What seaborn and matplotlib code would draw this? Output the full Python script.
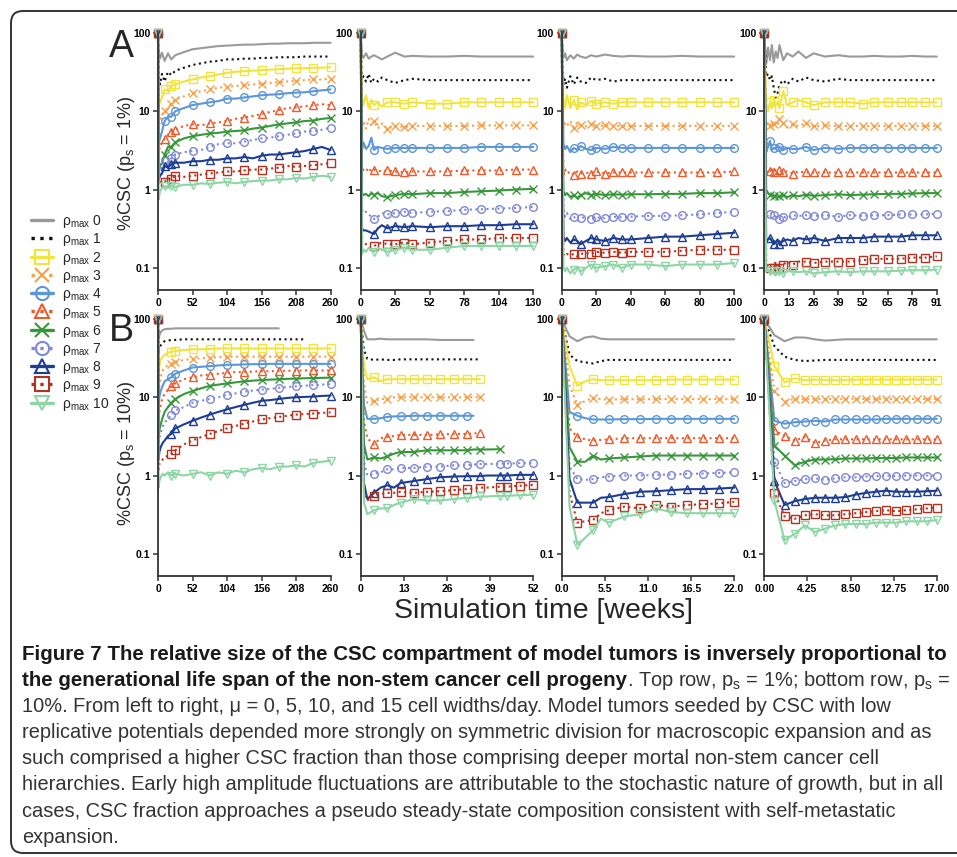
import matplotlib
matplotlib.use('Agg')
import matplotlib.pyplot as plt
import numpy as np
import pandas as pd
import seaborn as sns
from matplotlib.lines import Line2D
from matplotlib.patches import FancyBboxPatch
from matplotlib.ticker import NullLocator
from matplotlib.transforms import IdentityTransform
from matplotlib import font_manager

nan = np.nan

# legend / series look
rho_labels = ['0', '1', '2', '3', '4', '5', '6', '7', '8', '9', '10']
colors = ['#9a9a9a', '#111111', '#f2e43e', '#f8a04a', '#5b96d9', '#ef5a2a',
          '#38973a', '#8087d6', '#1d3d94', '#b2321f', '#8ed5a6']
linestyles = ['-', ':', '-', ':', '-', ':', '-', ':', '-', ':', '-']
markers = ['', '', 's', 'x', 'o', '^', 'x', 'o', '^', 's', 'v']

# ---- Top row (p_s = 1%) ----
weeks_a1 = [0, 1, 3, 6, 10, 15, 20, 26, 39, 52, 65, 78, 91, 104, 117, 130, 143,
            156, 169, 182, 195, 208, 221, 234, 247, 260]
csc_a1 = [
    [100, 60, 47, 56, 44, 55, 46, 52, 57, 62, 64, 66, 68, 69, 70, 71, 71, 72, 73, 73, 74, 74, 74, 75, 75, 75],
    [100, 28, 22, 30, 24, 32, 29, 33, 36, 39, 41, 43, 44, 46, 46, 47, 47, 48, 48, 49, 49, 49, 50, 50, 50, 50],
    [100, 12, 13, 15, 19, 18, 21, 22, 24, 25.5, 27, 28, 29.5, 31, 32, 32.5, 33, 33.5, 34, 34.5, 35, 35.5, 35.5, 36, 36, 36.5],
    [100, 6, 7.5, 9, 10, 11, 12.5, 14, 15.5, 17, 18, 19, 20, 20.5, 21, 21.5, 22, 22.5, 23, 23.5, 24, 24.5, 25, 25.5, 25.5, 26],
    [100, 4, 4.5, 5.5, 7.5, 8.5, 8.5, 10, 11, 12, 12.5, 13, 13.5, 14.5, 14.5, 15, 15.5, 16, 16.3, 16.5, 17, 17.3, 17.5, 18, 18.5, 19],
    [100, 3, 3.6, 4, 4.4, 5, 5.5, 5.8, 6.5, 6.8, 6.6, 7, 7.2, 7.5, 8, 8.3, 8.7, 9.2, 9.8, 10.3, 11, 11.2, 11.6, 12, 12.3, 12],
    [100, 1.6, 2, 2.2, 2.8, 3.5, 3.5, 4, 4.5, 4.8, 5, 5.2, 5.3, 5.5, 5.6, 5.7, 6, 6.2, 6.5, 6.8, 7, 7.2, 7.5, 7.6, 8, 8.2],
    [100, 1.4, 1.8, 2, 2.3, 2.2, 2.5, 2.8, 3, 3.1, 3.2, 3.5, 3.8, 3.9, 3.9, 4.1, 4.3, 4.5, 4.6, 4.8, 5, 5.2, 5.5, 5.6, 5.8, 6.2],
    [100, 1.3, 1.5, 1.6, 2.0, 1.9, 2.1, 2.2, 2.2, 2.3, 2.3, 2.4, 2.4, 2.5, 2.5, 2.6, 2.5, 2.7, 2.8, 2.8, 2.9, 3.0, 3.1, 3.3, 3.5, 3.2],
    [100, 1.15, 1.2, 1.3, 1.25, 1.4, 1.35, 1.5, 1.45, 1.5, 1.55, 1.6, 1.65, 1.7, 1.7, 1.75, 1.8, 1.8, 1.85, 1.9, 2.0, 1.95, 2.0, 2.05, 2.1, 2.2],
    [100, 0.75, 0.95, 1.05, 1.1, 1.05, 1.1, 1.08, 1.15, 1.15, 1.2, 1.18, 1.22, 1.25, 1.2, 1.25, 1.28, 1.3, 1.3, 1.35, 1.35, 1.4, 1.38, 1.45, 1.5, 1.45],
]
marks_a1 = [0, 4, 6, 7, 9, 11, 13, 15, 17, 19, 21, 23, 25]

weeks_a2 = [0, 1, 2, 4, 6, 8, 10, 13, 16, 20, 26, 33, 39, 52, 65, 78, 91, 104, 117, 130]
csc_a2 = [
    [100, 52, 48, 55, 47, 50, 52, 49, 46, 50, 56, 50, 51, 50, 50, 51, 50, 50, 50, 50],
    [100, 25, 28, 24, 30, 23, 26, 24, 27, 25, 23, 25, 26, 25, 25, 25, 25, 25, 25, 25],
    [100, 15, 12, 16, 11, 14, 12, 13, 11.5, 13, 13, 12.5, 13, 12.5, 12.5, 13, 13, 13, 13, 13],
    [100, 5.5, 7.5, 6, 8, 6.5, 7.5, 6, 7, 6, 6.5, 6.3, 6.5, 6.5, 6.5, 6.5, 6.6, 6.6, 6.6, 6.6],
    [100, 3.2, 4, 3.3, 3.6, 4.6, 3.2, 3.5, 3.4, 3.3, 3.4, 3.4, 3.4, 3.4, 3.4, 3.4, 3.5, 3.5, 3.5, 3.5],
    [100, 1.6, 1.8, 1.7, 1.9, 1.7, 1.8, 1.75, 1.7, 1.75, 1.7, 1.65, 1.7, 1.7, 1.7, 1.75, 1.75, 1.75, 1.8, 1.8],
    [100, 0.9, 0.85, 0.88, 0.82, 0.9, 0.85, 0.9, 0.82, 0.8, 0.85, 0.88, 0.87, 0.9, 0.9, 0.93, 0.95, 0.97, 1.0, 1.02],
    [100, 0.55, 0.5, 0.52, 0.48, 0.45, 0.42, 0.45, 0.5, 0.48, 0.5, 0.52, 0.5, 0.52, 0.53, 0.55, 0.56, 0.57, 0.58, 0.6],
    [100, 0.32, 0.3, 0.3, 0.29, 0.28, 0.27, 0.32, 0.35, 0.32, 0.34, 0.33, 0.34, 0.33, 0.34, 0.34, 0.35, 0.35, 0.36, 0.36],
    [100, 0.2, 0.21, 0.2, 0.19, 0.18, 0.19, 0.2, 0.21, 0.2, 0.2, 0.21, 0.2, 0.21, 0.22, 0.23, 0.23, 0.24, 0.24, 0.24],
    [100, 0.15, 0.17, 0.16, 0.18, 0.17, 0.16, 0.18, 0.17, 0.16, 0.17, 0.18, 0.17, 0.17, 0.18, 0.19, 0.19, 0.19, 0.19, 0.19],
]
marks_a2 = [0, 6, 9, 10, 11, 12, 13, 14, 15, 16, 17, 18, 19]

weeks_a3 = [0, 1, 2, 3, 5, 7, 9, 11, 14, 17, 20, 25, 30, 35, 40, 50, 60, 70, 80, 90, 100]
csc_a3 = [
    [100, 48, 55, 45, 52, 47, 53, 50, 48, 52, 50, 53, 51, 50, 51, 50, 50, 51, 50, 50, 50],
    [100, 22, 26, 20, 28, 22, 27, 24, 23, 27, 25, 26, 24, 25, 25, 25, 25, 25, 25, 25, 25],
    [100, 14, 11, 16, 11, 14, 10.5, 13, 12, 13.5, 12.5, 13, 12.5, 13, 13, 13, 13, 13, 13, 13, 13],
    [100, 6, 7, 6.5, 7.5, 6.2, 7.2, 6.6, 6.4, 6.8, 6.5, 6.6, 6.5, 6.5, 6.5, 6.5, 6.5, 6.5, 6.5, 6.5, 6.5],
    [100, 3.8, 3.3, 3.6, 3.0, 3.4, 3.2, 3.6, 3.3, 3.2, 3.4, 3.3, 3.5, 3.4, 3.4, 3.4, 3.4, 3.4, 3.4, 3.4, 3.4],
    [100, 1.5, 1.8, 1.6, 1.7, 1.55, 1.7, 1.6, 1.65, 1.6, 1.7, 1.6, 1.65, 1.65, 1.65, 1.65, 1.65, 1.65, 1.65, 1.65, 1.7],
    [100, 0.95, 0.85, 0.9, 0.8, 0.85, 0.78, 0.85, 0.9, 0.85, 0.88, 0.85, 0.87, 0.86, 0.87, 0.87, 0.88, 0.88, 0.9, 0.9, 0.92],
    [100, 0.55, 0.45, 0.5, 0.42, 0.45, 0.4, 0.43, 0.45, 0.42, 0.44, 0.43, 0.45, 0.44, 0.45, 0.46, 0.46, 0.47, 0.48, 0.5, 0.52],
    [100, 0.25, 0.22, 0.24, 0.21, 0.23, 0.22, 0.2, 0.22, 0.24, 0.23, 0.22, 0.24, 0.23, 0.23, 0.24, 0.25, 0.25, 0.26, 0.27, 0.28],
    [100, 0.15, 0.14, 0.15, 0.145, 0.15, 0.14, 0.15, 0.155, 0.15, 0.16, 0.155, 0.16, 0.155, 0.16, 0.16, 0.16, 0.165, 0.17, 0.17, 0.17],
    [100, 0.1, 0.09, 0.1, 0.085, 0.095, 0.1, 0.09, 0.1, 0.11, 0.1, 0.105, 0.11, 0.1, 0.11, 0.11, 0.105, 0.11, 0.11, 0.11, 0.115],
]
marks_a3 = [0, 5, 7, 9, 10, 11, 12, 13, 14, 15, 16, 17, 18, 19, 20]

weeks_a4 = [0, 1, 2, 3, 4, 5, 6, 7, 8, 10, 12, 15, 18, 22, 26, 32, 39, 45, 52, 58, 65, 72, 78, 85, 91]
csc_a4 = [
    [100, 40, 65, 45, 70, 42, 58, 48, 70, 45, 55, 50, 58, 48, 55, 50, 52, 50, 50, 51, 50, 50, 51, 50, 50],
    [100, 28, 30, 25, 28, 20, 15, 17, 22, 25, 22, 26, 24, 27, 25, 24, 26, 25, 25, 25, 25, 25, 25, 25, 25],
    [100, 12, 10, 13, 11, 14, 12, 13, 11, 18, 12, 13, 14, 13, 12, 13, 13, 13, 12.5, 13, 13, 13, 13, 13, 13],
    [100, 6, 7, 6.5, 7.5, 6.8, 7.2, 6.5, 8, 7, 6.2, 6.8, 6.5, 7, 6.4, 6.6, 6.5, 6.5, 6.5, 6.5, 6.5, 6.5, 6.5, 6.5, 6.5],
    [100, 3.0, 3.5, 4.2, 3.2, 3.4, 3.3, 3.6, 3.5, 3.2, 3.4, 3.3, 3.3, 3.5, 3.2, 3.4, 3.3, 3.4, 3.4, 3.4, 3.4, 3.4, 3.4, 3.4, 3.4],
    [100, 1.8, 1.6, 1.7, 1.9, 1.65, 1.8, 1.6, 1.75, 1.65, 1.7, 1.6, 1.7, 1.65, 1.65, 1.65, 1.65, 1.65, 1.65, 1.65, 1.65, 1.65, 1.65, 1.65, 1.65],
    [100, 1.0, 0.9, 0.85, 0.88, 0.82, 0.85, 0.8, 0.82, 0.85, 0.8, 0.85, 0.82, 0.86, 0.83, 0.85, 0.87, 0.85, 0.86, 0.87, 0.88, 0.88, 0.89, 0.9, 0.9],
    [100, 0.5, 0.45, 0.48, 0.5, 0.47, 0.45, 0.43, 0.42, 0.45, 0.43, 0.47, 0.46, 0.47, 0.46, 0.47, 0.45, 0.47, 0.46, 0.47, 0.47, 0.48, 0.48, 0.48, 0.49],
    [100, 0.22, 0.23, 0.24, 0.22, 0.2, 0.21, 0.23, 0.2, 0.22, 0.23, 0.22, 0.24, 0.23, 0.24, 0.22, 0.24, 0.24, 0.24, 0.25, 0.25, 0.25, 0.26, 0.26, 0.26],
    [100, 0.12, 0.1, 0.1, 0.11, 0.1, 0.12, 0.1, 0.1, 0.11, 0.12, 0.11, 0.12, 0.12, 0.115, 0.12, 0.12, 0.12, 0.125, 0.13, 0.13, 0.13, 0.135, 0.135, 0.14],
    [100, 0.09, 0.095, 0.09, 0.085, 0.09, 0.08, 0.085, 0.09, 0.085, 0.09, 0.09, 0.088, 0.09, 0.085, 0.088, 0.09, 0.088, 0.09, 0.09, 0.09, 0.092, 0.093, 0.093, 0.095],
]
marks_a4 = [0, 3, 5, 8, 9, 11, 13, 14, 15, 16, 17, 18, 19, 20, 21, 22, 23, 24]

# ---- Bottom row (p_s = 10%) ----
weeks_b1 = [0, 1, 2, 4, 7, 10, 15, 20, 26, 39, 52, 65, 78, 91, 104, 117, 130, 143,
            156, 169, 182, 195, 208, 221, 234, 247, 260]
csc_b1 = [
    [100, 55, 62, 68, 72, 74, 75, 75, 76, 76, 76, 76, 76, 76, 76, 76, 76, 76, 76, 76, 76, nan, nan, nan, nan, nan, nan],
    [100, 38, 42, 46, 50, 52, 53, 54, 54, 55, 55, 55, 55, 55, 55, 55, 55, 55, 55, 55, 55, 55, 55, 55, nan, nan, nan],
    [100, 20, 25, 30, 33, 35, 37, 38, 39, 40, 41, 41, 41.5, 42, 42, 42, 42, 42, 42, 42, 42, 42, 42, 42, 42, 42, 42],
    [100, 10, 14, 18, 22, 24, 26, 27, 28, 30, 31, 31.5, 32, 32.5, 33, 33, 33, 33, 33, 33, 33, 33, 33, 33, 33, 33, 33],
    [100, 8, 10, 12, 14, 16, 17, 18, 20, 22, 24, 24.5, 25, 25.5, 26, 26, 26.3, 26.5, 26.5, 26.7, 26.7, 26.7, 26.7, 26.7, 26.7, 26.7, 26.7],
    [100, 5, 6.5, 8, 10, 11, 12.5, 14, 15, 17, 18, 19, 19.5, 20, 20.5, 21, 21, 21.3, 21.5, 21.5, 21.7, 21.8, 21.8, 22, 22, 22, 22],
    [100, 3, 3.8, 4.5, 5.5, 6.5, 7.5, 8.5, 9.5, 11, 12, 13, 14, 14.5, 15, 15.5, 16, 16.3, 16.6, 16.8, 17, 17.2, 17.3, 17.5, 17.6, 17.7, 17.8],
    [100, 2.5, 3, 3.5, 4.2, 4.8, 5.2, 6, 6.8, 7.5, 8.5, 9, 9.5, 10, 10.8, 11.2, 11.8, 12.2, 12.5, 12.8, 13.2, 13.5, 13.8, 14, 14.3, 14.5, 14.7],
    [100, 1.6, 2, 2.3, 2.6, 2.8, 3.2, 3.4, 4, 4.5, 5, 5.5, 6, 6.5, 7, 7.5, 8, 8.5, 9, 9.2, 9.5, 9.8, 10, 10.1, 10.2, 10.4, 10.5],
    [100, 1.2, 1.4, 1.5, 1.6, 1.7, 1.8, 1.9, 2.1, 2.5, 2.8, 3.1, 3.4, 3.7, 4, 4.3, 4.6, 4.9, 5.2, 5.4, 5.6, 5.8, 6, 6.1, 6.2, 6.3, 6.4],
    [100, 0.7, 0.85, 0.95, 1.05, 1.0, 1.1, 1.0, 1.05, 1.0, 1.05, 1.1, 1.0, 1.1, 1.05, 1.15, 1.1, 1.2, 1.25, 1.2, 1.3, 1.3, 1.35, 1.3, 1.45, 1.5, 1.55],
]
marks_b1 = [0, 7, 8, 10, 12, 14, 16, 18, 20, 22, 24, 26]

weeks_b2 = [0, 1, 2, 4, 6, 8, 10, 12, 16, 20, 24, 28, 32, 34, 36, 38, 42, 44, 48, 52]
csc_b2 = [
    [100, 70, 55, 55, 56, 55, 55, 55, 55, 55, 54, 54, 54, 54, nan, nan, nan, nan, nan, nan],
    [100, 40, 31, 30, 30.5, 30, 30, 30.5, 30.5, 30.5, 30.5, 30.5, 30.5, 30.5, 30.5, nan, nan, nan, nan, nan],
    [100, 25, 17, 18, 16, 17, 17, 17, 17, 17, 17, 17, 17, 17, 17, nan, nan, nan, nan, nan],
    [100, 15, 8.5, 9, 9.5, 9.5, 10, 10, 10, 10, 10, 10, 10, 10, 10, nan, nan, nan, nan, nan],
    [100, 8, 5.3, 5.3, 5.4, 5.6, 5.7, 5.7, 5.8, 5.8, 5.8, 5.8, 5.8, 5.8, nan, nan, nan, nan, nan, nan],
    [100, 5, 3.0, 2.5, 3.0, 3.1, 3.2, 3.3, 3.3, 3.3, 3.35, 3.4, 3.4, 3.45, 3.5, nan, nan, nan, nan, nan],
    [100, 2.5, 1.6, 1.7, 1.65, 1.75, 1.9, 2.0, 2.0, 2.1, 2.1, 2.1, 2.1, 2.15, 2.15, 2.15, 2.17, nan, nan, nan],
    [100, 1.5, 1.0, 1.05, 1.1, 1.2, 1.2, 1.25, 1.25, 1.3, 1.3, 1.35, 1.35, 1.38, 1.4, 1.4, 1.42, 1.42, 1.44, 1.45],
    [100, 0.8, 0.5, 0.6, 0.7, 0.75, 0.7, 0.8, 0.85, 0.9, 0.95, 0.97, 0.98, 0.98, 0.98, 1.0, 1.0, 1.0, 1.02, 1.02],
    [100, 0.6, 0.48, 0.55, 0.58, 0.6, 0.6, 0.62, 0.6, 0.62, 0.63, 0.65, 0.67, 0.68, 0.7, 0.7, 0.72, 0.72, 0.74, 0.76],
    [100, 0.45, 0.32, 0.36, 0.38, 0.38, 0.42, 0.45, 0.5, 0.48, 0.48, 0.5, 0.52, 0.52, 0.54, 0.54, 0.55, 0.55, 0.56, 0.57],
]
marks_b2 = [0, 3, 5, 7, 8, 9, 10, 11, 12, 14, 16, 17, 18, 19]

weeks_b3 = [0, 1, 2, 3, 4, 5, 6, 8, 10, 12, 14, 16, 18, 20, 22]
csc_b3 = [
    [100, 60, 52, 58, 60, 56, 55, 55, 55, 55, 55, 55, 55, 55, 55],
    [100, 35, 29, 28, 27, 29, 30, 30, 30, 30, 30, 30, 30, 30, 30],
    [100, 25, 14, 16, 17, 16.5, 16.5, 16.5, 16.5, 16.5, 16.8, 16.8, 16.8, 16.8, 16.8],
    [100, 14, 8, 9, 9.8, 9.5, 9.3, 9.5, 9.4, 9.5, 9.5, 9.5, 9.5, 9.5, 9.5],
    [100, 6.5, 5.8, 5.4, 5.2, 5.2, 5.2, 5.25, 5.25, 5.3, 5.3, 5.3, 5.3, 5.3, 5.3],
    [100, 4, 3.1, 2.9, 2.8, 2.85, 2.9, 3.0, 3.0, 3.0, 3.0, 3.0, 3.0, 3.0, 3.0],
    [100, 2.3, 1.5, 1.5, 1.8, 1.6, 1.65, 1.7, 1.75, 1.8, 1.8, 1.8, 1.8, 1.8, 1.8],
    [100, 1.3, 0.9, 0.88, 0.9, 0.95, 0.97, 1.0, 1.0, 1.02, 1.03, 1.05, 1.06, 1.08, 1.1],
    [100, 0.9, 0.45, 0.45, 0.45, 0.52, 0.53, 0.58, 0.62, 0.63, 0.65, 0.67, 0.67, 0.68, 0.7],
    [100, 0.6, 0.25, 0.26, 0.27, 0.33, 0.36, 0.4, 0.38, 0.42, 0.4, 0.42, 0.43, 0.44, 0.46],
    [100, 0.4, 0.13, 0.16, 0.2, 0.28, 0.25, 0.3, 0.32, 0.38, 0.34, 0.33, 0.33, 0.33, 0.33],
]
marks_b3 = [0, 2, 4, 6, 7, 8, 9, 10, 11, 12, 13, 14]

weeks_b4 = [0, 1, 2, 3, 4, 5, 6, 7, 8, 9, 10, 11, 12, 13, 14, 15, 16, 17]
csc_b4 = [
    [100, 62, 52, 58, 58, 55, 53, 54, 55, 55, 55, 55, 55, 55, 55, 55, 55, 55],
    [100, 45, 33, 30, 29, 29.5, 30, 30, 30, 30, 30, 30, 30, 30, 30, 30, 30, 30],
    [100, 25, 15.5, 17.5, 16.5, 16.8, 16.7, 16.5, 16.6, 16.8, 16.8, 16.8, 16.8, 16.8, 16.8, 16.8, 16.8, 16.8],
    [100, 12, 8.8, 9.6, 9.4, 9.5, 9.5, 9.5, 9.5, 9.6, 9.5, 9.5, 9.6, 9.5, 9.5, 9.5, 9.5, 9.5],
    [100, 5.0, 4.6, 4.8, 4.9, 5.0, 4.9, 5.2, 5.2, 5.2, 5.2, 5.2, 5.3, 5.3, 5.3, 5.3, 5.3, 5.3],
    [100, 3.8, 3.2, 2.8, 3.1, 2.6, 2.8, 2.9, 2.9, 2.9, 2.9, 2.9, 2.9, 2.9, 2.9, 2.9, 2.9, 2.9],
    [100, 2.4, 1.8, 1.35, 1.5, 1.6, 1.6, 1.62, 1.65, 1.65, 1.65, 1.67, 1.67, 1.68, 1.7, 1.7, 1.7, 1.7],
    [100, 1.5, 0.8, 0.85, 0.9, 0.92, 0.88, 0.92, 0.95, 0.95, 0.97, 0.98, 1.0, 0.98, 1.0, 1.0, 1.0, 1.0],
    [100, 0.85, 0.42, 0.47, 0.5, 0.52, 0.52, 0.52, 0.53, 0.57, 0.6, 0.62, 0.64, 0.62, 0.62, 0.62, 0.63, 0.64],
    [100, 0.6, 0.3, 0.28, 0.31, 0.32, 0.31, 0.31, 0.32, 0.33, 0.34, 0.35, 0.36, 0.35, 0.36, 0.37, 0.38, 0.39],
    [100, 0.47, 0.15, 0.18, 0.23, 0.19, 0.21, 0.23, 0.24, 0.24, 0.24, 0.25, 0.25, 0.25, 0.26, 0.26, 0.26, 0.27],
]
marks_b4 = list(range(18))

# x ticks per column
xticks_1 = [0, 52, 104, 156, 208, 260]
xticks_a2 = [0, 26, 52, 78, 104, 130]
xticks_a3 = [0, 20, 40, 60, 80, 100]
xticks_a4 = [0, 13, 26, 39, 52, 65, 78, 91]
xticks_b2 = [0, 13, 26, 39, 52]
xticks_b3 = [0.0, 5.5, 11.0, 16.5, 22.0]
xlabels_b3 = ['0.0', '5.5', '11.0', '16.5', '22.0']
xticks_b4 = [0.0, 4.25, 8.5, 12.75, 17.0]
xlabels_b4 = ['0.00', '4.25', '8.50', '12.75', '17.00']

caption_bold_1 = 'Figure 7 The relative size of the CSC compartment of model tumors is inversely proportional to'
caption_bold_2 = 'the generational life span of the non-stem cancer cell progeny'
caption_rest_2 = '. Top row, p$_\\mathregular{s}$ = 1%; bottom row, p$_\\mathregular{s}$ ='
caption_lines = [
    '10%. From left to right, \u03bc = 0, 5, 10, and 15 cell widths/day. Model tumors seeded by CSC with low',
    'replicative potentials depended more strongly on symmetric division for macroscopic expansion and as',
    'such comprised a higher CSC fraction than those comprising deeper mortal non-stem cancer cell',
    'hierarchies. Early high amplitude fluctuations are attributable to the stochastic nature of growth, but in all',
    'cases, CSC fraction approaches a pseudo steady-state composition consistent with self-metastatic',
    'expansion.',
]

sns.set_theme(style='ticks')
plt.rcParams['font.family'] = ['Liberation Sans', 'DejaVu Sans']
plt.rcParams['mathtext.fontset'] = 'custom'
plt.rcParams['mathtext.rm'] = 'Liberation Sans'

W, H = 957, 857
fig = plt.figure(figsize=(W / 100, H / 100), dpi=100)
fig.patch.set_facecolor('white')


def draw_panel(ax, weeks, series, marks, xmax, xticks, xlabels=None):
    for i, ys in enumerate(series):
        d = pd.DataFrame({'week': weeks, 'csc': ys}).dropna()
        mk = [m for m in marks if m < len(d)]
        sns.lineplot(data=d, x='week', y='csc', ax=ax, color=colors[i],
                     linestyle=linestyles[i], linewidth=1.5,
                     marker=markers[i], markevery=mk, markersize=5.5,
                     markerfacecolor='none', markeredgecolor=colors[i],
                     markeredgewidth=1.0, estimator=None, sort=False,
                     errorbar=None, clip_on=False)
    ax.set_yscale('log')
    ax.set_ylim(0.052, 100)
    ax.set_xlim(0, xmax)
    ax.set_yticks([0.1, 1, 10, 100], ['0.1', '1', '10', '100'],
                  fontsize=7.5, fontweight='bold')
    ax.yaxis.set_minor_locator(NullLocator())
    if xlabels is None:
        xlabels = [str(t) for t in xticks]
    ax.set_xticks(xticks, xlabels, fontsize=7.5, fontweight='bold')
    ax.set_xlabel('')
    ax.set_ylabel('')
    sns.despine(ax=ax)
    for s in ['left', 'bottom']:
        ax.spines[s].set_linewidth(1.3)
        ax.spines[s].set_color('#333333')
    ax.tick_params(axis='both', direction='out', length=3.5, width=1.1,
                   color='#333333', pad=2, labelcolor='black')
    ax.set_facecolor('none')


lefts = [158, 360.7, 561.7, 764.3]
width = 172.5
top_row = [(weeks_a1, csc_a1, marks_a1, 260, xticks_1, None),
           (weeks_a2, csc_a2, marks_a2, 130, xticks_a2, None),
           (weeks_a3, csc_a3, marks_a3, 100, xticks_a3, None),
           (weeks_a4, csc_a4, marks_a4, 91, xticks_a4, None)]
bottom_row = [(weeks_b1, csc_b1, marks_b1, 260, xticks_1, None),
              (weeks_b2, csc_b2, marks_b2, 52, xticks_b2, None),
              (weeks_b3, csc_b3, marks_b3, 22, xticks_b3, xlabels_b3),
              (weeks_b4, csc_b4, marks_b4, 17, xticks_b4, xlabels_b4)]

for row, top_px in [(top_row, 33), (bottom_row, 319)]:
    for left, args in zip(lefts, row):
        ax = fig.add_axes([left / W, 1 - (top_px + 257) / H, width / W, 257 / H])
        draw_panel(ax, *args)

# panel letters and y labels
fig.text(121 / W, 1 - 57 / H, 'A', fontsize=27, ha='center', va='baseline')
fig.text(121 / W, 1 - 341 / H, 'B', fontsize=27, ha='center', va='baseline')
fig.text(127 / W, 1 - 163 / H, '%CSC (p$_\\mathregular{s}$ = 1%)', rotation=90,
         fontsize=13, ha='center', va='center')
fig.text(127 / W, 1 - 453 / H, '%CSC (p$_\\mathregular{s}$ = 10%)', rotation=90,
         fontsize=13, ha='center', va='center')
fig.text(543 / W, 1 - 618 / H, 'Simulation time [weeks]', fontsize=20.5,
         ha='center', va='baseline')

# legend
handles = [Line2D([0], [0], color=colors[i], linestyle=linestyles[i], linewidth=2.4,
                  marker=markers[i], markersize=9.5, markerfacecolor='none',
                  markeredgecolor=colors[i], markeredgewidth=1.5)
           for i in range(len(rho_labels))]
labels = ['\u03c1$_\\mathregular{max}$ ' + r for r in rho_labels]
fig.legend(handles, labels, loc='upper left', bbox_to_anchor=(31 / W, 1 - 213 / H),
           frameon=False, fontsize=10, handlelength=1.6, handletextpad=0.6,
           labelspacing=0.09, borderpad=0, borderaxespad=0)

# frame
frame = FancyBboxPatch((11, 4), 980, 842, boxstyle='round,pad=0,rounding_size=12',
                       transform=IdentityTransform(), fill=False,
                       edgecolor='#333333', linewidth=1.4)
fig.add_artist(frame)

# caption: condensed font if installed, otherwise size fitted to the line widths
names = {f.name for f in font_manager.fontManager.ttflist}
cap_family = 'Liberation Sans Narrow' if 'Liberation Sans Narrow' in names else 'Liberation Sans'
renderer = fig.canvas.get_renderer()
probe_b = fig.text(0, 0, caption_bold_1, fontsize=13, fontweight='bold', family=cap_family)
probe_n = fig.text(0, 0, caption_lines[3], fontsize=13, family=cap_family)
bold_size = 13 * 926 / probe_b.get_window_extent(renderer).width
norm_size = 13 * 918 / probe_n.get_window_extent(renderer).width
probe_b.remove()
probe_n.remove()

base0 = 660
step = 26.1
fig.text(22 / W, 1 - base0 / H, caption_bold_1, fontsize=bold_size, fontweight='bold',
         family=cap_family, color='#1a1a1a', va='baseline')
t2 = fig.text(22 / W, 1 - (base0 + step) / H, caption_bold_2, fontsize=bold_size,
              fontweight='bold', family=cap_family, color='#1a1a1a', va='baseline')
fig.canvas.draw()
x_end = t2.get_window_extent(renderer).x1
fig.text(x_end / W, 1 - (base0 + step) / H, caption_rest_2, fontsize=norm_size,
         family=cap_family, color='#333333', va='baseline')
for k, line in enumerate(caption_lines):
    fig.text(22 / W, 1 - (base0 + step * (k + 2)) / H, line, fontsize=norm_size,
             family=cap_family, color='#333333', va='baseline')

fig.savefig('out.png', dpi=100, facecolor='white')
